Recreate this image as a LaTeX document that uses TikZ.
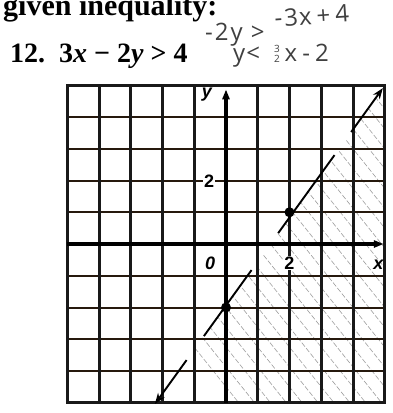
\documentclass[tikz,border=0pt]{standalone}
\usepackage{fontspec}
\setmainfont{Liberation Serif}
\newfontfamily\handfont{Open Sans}
\newfontfamily\lblfont{Liberation Sans}
\usetikzlibrary{arrows.meta,calc}
\tikzset{
  vline/.style={line width=3pt, black!90},
  hline/.style={line width=2pt, black!80!brown},
  border/.style={line width=2.6pt, black!90},
  axisline/.style={line width=3.6pt, black},
  hatchline/.style={line width=0.6pt, gray!75, dash pattern=on 5pt off 2pt},
  bline/.style={line width=1.9pt, black},
  dot/.style={circle, fill=black, inner sep=0pt, minimum size=10pt},
  hand/.style={font=\handfont\fontsize{24}{24}\selectfont, text=black!75, inner sep=0pt},
  lbl/.style={font=\lblfont\bfseries\fontsize{18}{18}\selectfont, inner sep=1pt},
  lbli/.style={font=\lblfont\bfseries\itshape\fontsize{18}{18}\selectfont, inner sep=1pt},
}
\newcommand{\hs}{\hspace{5pt}}
\begin{document}
\begin{tikzpicture}[x=1pt,y=-1pt]
\useasboundingbox (0,0) rectangle (392,413);
\fill[white] (0,0) rectangle (392,413);
% heading
\node[anchor=base west, inner sep=0pt, font=\fontsize{30}{30}\selectfont\bfseries] (title) at (3,15) {given inequality:};
\node[anchor=base west, inner sep=0pt, font=\fontsize{28}{28}\selectfont\bfseries] (prob) at (10,62) {12.\ \ 3\textit{x} \textminus{} 2\textit{y} > 4};
% handwriting
\node[hand, anchor=base west] (h1) at (205,40) {-\hspace{2pt}2\hspace{2pt}y\hs\hspace{3pt}>};
\node[hand, anchor=base west, rotate=4] (h2) at (275,27) {-\hspace{2pt}3\hspace{1pt}x\hs+\hs4};
\node[hand, anchor=base west] (h3) at (233,61) {y\hspace{1pt}<\hspace{14pt}\raisebox{-1pt}{\shortstack{\fontsize{10}{9}\selectfont 3\\[-1pt]\fontsize{10}{9}\selectfont 2}}\hs x\hs-\hs2};
\begin{scope}[shift={(226,244)}, x=31.75pt, y=31.75pt]
  % hatching
  \coordinate (L) at (-2.24,-5.04);
  \coordinate (U) at (4.94,4.91);
  \begin{scope}
    \clip (-5,-5) rectangle (5,5);
    \clip (L) -- (U) -- (5.5,5.5) -- (5.5,-5.5) -- cycle;
    \foreach \c in {-8,-7.5,...,6} {
      \draw[hatchline] (\c,5.5) -- ++(8.8,-11);
    }
  \end{scope}
  % grid
  \foreach \j in {-4,...,-1,1,2,...,4} \draw[hline] (-5,\j) -- (5,\j);
  \foreach \i in {-4,...,-1,1,2,...,4} \draw[vline] (\i,-5) -- (\i,5);
  \draw[border] (-5,-5) rectangle (5,5);
  % axes
  \draw[axisline, -{Triangle[length=10pt,width=7pt]}] (-5,0) -- (4.97,0);
  \draw[axisline, -{Triangle[length=10pt,width=7pt]}] (0,-5) -- (0,4.87);
  % labels
  \node[lbli] (ylab) at (-0.6,4.72) {y};
  \node[lbli] (xlab) at (4.8,-0.65) {x};
  \node[lbli] (olab) at (-0.5,-0.6) {0};
  \node[lbl, fill=white] (twox) at (2.0,-0.6) {2};
  \node[lbl, fill=white] (twoy) at (-0.53,1.98) {2};
  % boundary line (dashed)
  \coordinate (a1) at ($(L)!0.139!(U)$);
  \coordinate (a2) at ($(L)!0.215!(U)$);
  \coordinate (a3) at ($(L)!0.424!(U)$);
  \coordinate (a4) at ($(L)!0.541!(U)$);
  \coordinate (a5) at ($(L)!0.788!(U)$);
  \coordinate (a6) at ($(L)!0.861!(U)$);
  \draw[bline, {Stealth[length=11pt,width=8pt]}-] (L) -- (a1);
  \draw[bline] (a2) -- (a3);
  \draw[bline] (a4) -- (a5);
  \draw[bline, -{Stealth[length=11pt,width=8pt]}] (a6) -- (U);
  \node[dot] (p1) at (0,-2) {};
  \node[dot] (p2) at (2,1) {};
\end{scope}
\end{tikzpicture}
\end{document}
